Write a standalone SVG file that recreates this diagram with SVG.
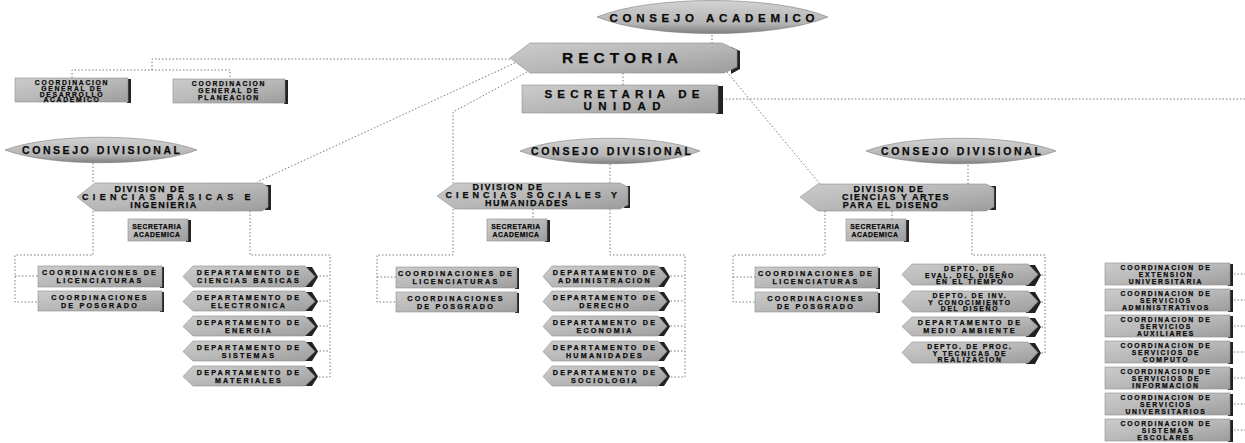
<svg xmlns="http://www.w3.org/2000/svg" width="1245" height="443" viewBox="0 0 1245 443">
<defs>
<linearGradient id="g" x1="0" y1="0" x2="1" y2="1">
<stop offset="0" stop-color="#cbcbcb"/>
<stop offset="0.5" stop-color="#b8b8b8"/>
<stop offset="1" stop-color="#9c9c9c"/>
</linearGradient>
<linearGradient id="gl" x1="0" y1="0" x2="0" y2="1">
<stop offset="0" stop-color="#d2d2d2"/>
<stop offset="0.7" stop-color="#b4b4b4"/>
<stop offset="1" stop-color="#7e7e7e"/>
</linearGradient>
</defs>
<style>
.b{fill:url(#g);stroke:#8e8e8e;stroke-width:0.6}
.l{fill:url(#gl);stroke:#808080;stroke-width:0.6}
.sh{fill:#222}
.t{font-family:"Liberation Sans",Arial,sans-serif;font-weight:bold;fill:#0a0a0a;stroke:#0a0a0a;stroke-width:0.25;text-anchor:middle}
.s{font-size:7.2px;letter-spacing:2.2px}
.s6{font-size:6.8px;letter-spacing:1.7px}
.m{font-size:9px;letter-spacing:1.5px}
.c{fill:none;stroke:#7a7a7a;stroke-width:1;stroke-dasharray:1.5 2}
</style>

<g id="connectors">
<path class="c" d="M712 28V44"/>
<path class="c" d="M623 73V85"/>
<path class="c" d="M722 99H1245"/>
<path class="c" d="M510 59H152V70M72 78V70H230V79"/>
<path class="c" d="M515 63L257 182"/>
<path class="c" d="M527 72L453 112V184"/>
<path class="c" d="M727 72L820 184"/>
<path class="c" d="M93 163V184"/>
<path class="c" d="M93 211V255H15V302H38M15 276H38"/>
<path class="c" d="M250 211V255H330V377H313M316 276H330M316 301H330M316 326H330M316 351H330"/>
<path class="c" d="M610 164V184"/>
<path class="c" d="M610 209V255H685V377H667M667 276H685M667 301H685M667 326H685M667 351H685"/>
<path class="c" d="M453 209V255H377V302H398M377 277H398"/>
<path class="c" d="M533 209V219"/>
<path class="c" d="M968 165V184"/>
<path class="c" d="M972 211V255H1045V353H1038M1038 275H1045M1038 302H1045M1038 327H1045"/>
<path class="c" d="M825 211V255H733V302H755M733 277H755"/>
<path class="c" d="M892 211V219"/>
<path class="c" d="M1234 274H1245M1234 300H1245M1234 326H1245M1234 352H1245M1234 378H1245M1234 404H1245M1234 430H1245"/>
</g>

<g id="consejo-academico">
<path class="l" d="M597 17C650 -5 775 -5 828 17C775 39 650 39 597 17Z"/>
<text class="t" x="712" y="21.5" font-size="11.5" textLength="205" lengthAdjust="spacing">CONSEJO ACADEMICO</text>
</g>

<g id="rectoria">
<path class="sh" d="M731 47L740 51V69L731 74Z"/>
<path class="b" d="M510 58L530 43H722L737 50V67L724 73H530Z"/>
<text class="t" x="620" y="63" font-size="15.5" textLength="116" lengthAdjust="spacing">RECTORIA</text>
</g>

<g id="secretaria-unidad">
<rect class="sh" x="716" y="86" width="7" height="28"/>
<rect class="b" x="522" y="85" width="196" height="28"/>
<text class="t" x="622" y="98" font-size="11.5" textLength="155" lengthAdjust="spacing">SECRETARIA DE</text>
<text class="t" x="622" y="110" font-size="11.5" textLength="77" lengthAdjust="spacing">UNIDAD</text>
</g>

<g id="coord-desarrollo">
<rect class="sh" x="127" y="79" width="4" height="24"/>
<rect class="b" x="15" y="78" width="113" height="24"/>
<text class="t s6" x="72" y="84.5">COORDINACION</text>
<text class="t s6" x="72" y="90.5">GENERAL DE</text>
<text class="t s6" x="72" y="96.5">DESARROLLO</text>
<text class="t s6" x="72" y="102">ACADEMICO</text>
</g>

<g id="coord-planeacion">
<rect class="sh" x="284" y="80" width="4" height="24"/>
<rect class="b" x="173" y="79" width="112" height="24"/>
<text class="t s6" x="229" y="86">COORDINACION</text>
<text class="t s6" x="229" y="93">GENERAL DE</text>
<text class="t s6" x="229" y="100">PLANEACION</text>
</g>

<!-- LEFT DIVISION -->
<g id="consejo-div-1">
<path class="l" d="M5 150C50 133 152 133 197 150C152 167 50 167 5 150Z"/>
<text class="t" x="101" y="154" font-size="10.5" textLength="158" lengthAdjust="spacing">CONSEJO DIVISIONAL</text>
</g>
<g id="division-1">
<rect class="sh" x="265" y="185" width="6" height="25"/>
<path class="b" d="M77 197L95 183H262L268 187V207L262 211H95Z"/>
<text class="t m" x="150" y="192">DIVISION DE</text>
<text class="t m" x="167" y="200" textLength="170" lengthAdjust="spacing">CIENCIAS BASICAS E</text>
<text class="t m" x="164" y="208">INGENIERIA</text>
</g>
<g id="secacad-1">
<rect class="sh" x="186" y="220" width="5" height="22"/>
<rect class="b" x="128" y="219" width="60" height="22"/>
<text class="t s6" x="157" y="228.5" style="letter-spacing:0.6px">SECRETARIA</text>
<text class="t s6" x="157" y="236.5" style="letter-spacing:0.6px">ACADEMICA</text>
</g>
<g id="coordlic-1">
<rect class="sh" x="160" y="267" width="4" height="21"/>
<rect class="b" x="38" y="266" width="124" height="21"/>
<text class="t s" x="100" y="275">COORDINACIONES DE</text>
<text class="t s" x="100" y="283">LICENCIATURAS</text>
</g>
<g id="coordpos-1">
<rect class="sh" x="160" y="292" width="4" height="20"/>
<rect class="b" x="38" y="291" width="124" height="20"/>
<text class="t s" x="100" y="299.5">COORDINACIONES</text>
<text class="t s" x="100" y="307.5">DE POSGRADO</text>
</g>
<g id="dep-1-1">
<path class="sh" d="M302 267L312 267L318 277L312 287L302 287Z"/>
<path class="b" d="M183 276.5L193 266H305L315 276.5L305 287H193Z"/>
<text class="t s" x="249" y="275">DEPARTAMENTO DE</text>
<text class="t s" x="249" y="283">CIENCIAS BASICAS</text>
</g>
<g id="dep-1-2">
<path class="sh" d="M302 292L312 292L318 301.5L312 311L302 311Z"/>
<path class="b" d="M183 301.5L193 291H305L315 301.5L305 311H193Z"/>
<text class="t s" x="249" y="300">DEPARTAMENTO DE</text>
<text class="t s" x="249" y="308">ELECTRONICA</text>
</g>
<g id="dep-1-3">
<path class="sh" d="M302 317L312 317L318 326.5L312 336L302 336Z"/>
<path class="b" d="M183 326.5L193 316H305L315 326.5L305 336H193Z"/>
<text class="t s" x="249" y="325">DEPARTAMENTO DE</text>
<text class="t s" x="249" y="333">ENERGIA</text>
</g>
<g id="dep-1-4">
<path class="sh" d="M302 342L312 342L318 351.5L312 361L302 361Z"/>
<path class="b" d="M183 351.5L193 341H305L315 351.5L305 361H193Z"/>
<text class="t s" x="249" y="350">DEPARTAMENTO DE</text>
<text class="t s" x="249" y="358">SISTEMAS</text>
</g>
<g id="dep-1-5">
<path class="sh" d="M302 367L312 367L318 376.5L312 386L302 386Z"/>
<path class="b" d="M183 376.5L193 366H305L315 376.5L305 386H193Z"/>
<text class="t s" x="249" y="375">DEPARTAMENTO DE</text>
<text class="t s" x="249" y="383">MATERIALES</text>
</g>

<!-- MIDDLE DIVISION -->
<g id="consejo-div-2">
<path class="l" d="M520 151C562 134 658 134 700 151C658 168 562 168 520 151Z"/>
<text class="t" x="611" y="155" font-size="10.5" textLength="160" lengthAdjust="spacing">CONSEJO DIVISIONAL</text>
</g>
<g id="division-2">
<rect class="sh" x="624" y="186" width="6" height="22"/>
<path class="b" d="M437 196L455 183H620L628 187V205L620 209H455Z"/>
<text class="t m" x="508" y="190">DIVISION DE</text>
<text class="t m" x="532" y="198" textLength="173" lengthAdjust="spacing">CIENCIAS SOCIALES Y</text>
<text class="t m" x="527" y="206">HUMANIDADES</text>
</g>
<g id="secacad-2">
<rect class="sh" x="545" y="220" width="5" height="22"/>
<rect class="b" x="487" y="219" width="60" height="22"/>
<text class="t s6" x="516" y="228.5" style="letter-spacing:0.6px">SECRETARIA</text>
<text class="t s6" x="516" y="236.5" style="letter-spacing:0.6px">ACADEMICA</text>
</g>
<g id="coordlic-2">
<rect class="sh" x="515" y="268" width="4" height="21"/>
<rect class="b" x="396" y="267" width="121" height="21"/>
<text class="t s" x="456" y="276">COORDINACIONES DE</text>
<text class="t s" x="456" y="284">LICENCIATURAS</text>
</g>
<g id="coordpos-2">
<rect class="sh" x="515" y="293" width="4" height="20"/>
<rect class="b" x="396" y="292" width="121" height="20"/>
<text class="t s" x="456" y="300.5">COORDINACIONES</text>
<text class="t s" x="456" y="308.5">DE POSGRADO</text>
</g>
<g id="dep-2-1">
<path class="sh" d="M655 267L664 267L670 277L664 287L655 287Z"/>
<path class="b" d="M543 276.5L552 266H658L667 276.5L658 287H552Z"/>
<text class="t s" x="605" y="275">DEPARTAMENTO DE</text>
<text class="t s" x="605" y="283">ADMINISTRACION</text>
</g>
<g id="dep-2-2">
<path class="sh" d="M655 292L664 292L670 301.5L664 311L655 311Z"/>
<path class="b" d="M543 301.5L552 291H658L667 301.5L658 311H552Z"/>
<text class="t s" x="605" y="300">DEPARTAMENTO DE</text>
<text class="t s" x="605" y="308">DERECHO</text>
</g>
<g id="dep-2-3">
<path class="sh" d="M655 317L664 317L670 326.5L664 336L655 336Z"/>
<path class="b" d="M543 326.5L552 316H658L667 326.5L658 336H552Z"/>
<text class="t s" x="605" y="325">DEPARTAMENTO DE</text>
<text class="t s" x="605" y="333">ECONOMIA</text>
</g>
<g id="dep-2-4">
<path class="sh" d="M655 342L664 342L670 351.5L664 361L655 361Z"/>
<path class="b" d="M543 351.5L552 341H658L667 351.5L658 361H552Z"/>
<text class="t s" x="605" y="350">DEPARTAMENTO DE</text>
<text class="t s" x="605" y="358">HUMANIDADES</text>
</g>
<g id="dep-2-5">
<path class="sh" d="M655 367L664 367L670 376.5L664 386L655 386Z"/>
<path class="b" d="M543 376.5L552 366H658L667 376.5L658 386H552Z"/>
<text class="t s" x="605" y="375">DEPARTAMENTO DE</text>
<text class="t s" x="605" y="383">SOCIOLOGIA</text>
</g>

<!-- RIGHT DIVISION -->
<g id="consejo-div-3">
<path class="l" d="M866 151C910 134 1012 134 1056 151C1012 168 910 168 866 151Z"/>
<text class="t" x="961" y="155" font-size="10.5" textLength="160" lengthAdjust="spacing">CONSEJO DIVISIONAL</text>
</g>
<g id="division-3">
<rect class="sh" x="990" y="186" width="6" height="24"/>
<path class="b" d="M800 197L818 184H986L994 188V207L986 211H818Z"/>
<text class="t m" x="889" y="192">DIVISION DE</text>
<text class="t m" x="896" y="200">CIENCIAS Y ARTES</text>
<text class="t m" x="891" y="208">PARA EL DISEÑO</text>
</g>
<g id="secacad-3">
<rect class="sh" x="904" y="220" width="5" height="22"/>
<rect class="b" x="846" y="219" width="60" height="22"/>
<text class="t s6" x="875" y="228.5" style="letter-spacing:0.6px">SECRETARIA</text>
<text class="t s6" x="875" y="236.5" style="letter-spacing:0.6px">ACADEMICA</text>
</g>
<g id="coordlic-3">
<rect class="sh" x="876" y="268" width="4" height="21"/>
<rect class="b" x="755" y="267" width="123" height="21"/>
<text class="t s" x="816" y="276">COORDINACIONES DE</text>
<text class="t s" x="816" y="284">LICENCIATURAS</text>
</g>
<g id="coordpos-3">
<rect class="sh" x="876" y="293" width="4" height="20"/>
<rect class="b" x="755" y="292" width="123" height="20"/>
<text class="t s" x="816" y="300.5">COORDINACIONES</text>
<text class="t s" x="816" y="308.5">DE POSGRADO</text>
</g>
<g id="dep-3-1">
<path class="sh" d="M1026 265L1035 265L1041 275L1035 286L1026 286Z"/>
<path class="b" d="M902 274.5L912 264H1028L1038 274.5L1028 285H912Z"/>
<text class="t s6" x="970" y="270.5">DEPTO. DE</text>
<text class="t s6" x="970" y="277.5">EVAL. DEL DISEÑO</text>
<text class="t s6" x="970" y="284">EN EL TIEMPO</text>
</g>
<g id="dep-3-2">
<path class="sh" d="M1026 292L1035 292L1041 302L1035 313L1026 313Z"/>
<path class="b" d="M902 301.5L912 291H1028L1038 301.5L1028 312H912Z"/>
<text class="t s6" x="970" y="297.5">DEPTO. DE INV.</text>
<text class="t s6" x="970" y="304.5">Y CONOCIMIENTO</text>
<text class="t s6" x="970" y="311">DEL DISEÑO</text>
</g>
<g id="dep-3-3">
<path class="sh" d="M1026 318L1035 318L1041 327L1035 337L1026 337Z"/>
<path class="b" d="M902 326.5L912 317H1028L1038 326.5L1028 336H912Z"/>
<text class="t s" x="970" y="325">DEPARTAMENTO DE</text>
<text class="t s" x="970" y="333">MEDIO AMBIENTE</text>
</g>
<g id="dep-3-4">
<path class="sh" d="M1026 343L1035 343L1041 353L1035 364L1026 364Z"/>
<path class="b" d="M902 352.5L912 342H1028L1038 352.5L1028 363H912Z"/>
<text class="t s6" x="970" y="348.5">DEPTO. DE PROC.</text>
<text class="t s6" x="970" y="355.5">Y TECNICAS DE</text>
<text class="t s6" x="970" y="362">REALIZACION</text>
</g>

<!-- FAR RIGHT COORDINATIONS -->
<g id="coord-extension">
<rect class="sh" x="1228" y="264" width="5" height="22"/>
<rect class="b" x="1105" y="263" width="125" height="22"/>
<text class="t s6" x="1166" y="269.5">COORDINACION DE</text>
<text class="t s6" x="1166" y="276.5">EXTENSION</text>
<text class="t s6" x="1166" y="283.5">UNIVERSITARIA</text>
</g>
<g id="coord-administrativos">
<rect class="sh" x="1228" y="290" width="5" height="22"/>
<rect class="b" x="1105" y="289" width="125" height="22"/>
<text class="t s6" x="1166" y="295.5">COORDINACION DE</text>
<text class="t s6" x="1166" y="302.5">SERVICIOS</text>
<text class="t s6" x="1166" y="309.5">ADMINISTRATIVOS</text>
</g>
<g id="coord-auxiliares">
<rect class="sh" x="1228" y="316" width="5" height="22"/>
<rect class="b" x="1105" y="315" width="125" height="22"/>
<text class="t s6" x="1166" y="321.5">COORDINACION DE</text>
<text class="t s6" x="1166" y="328.5">SERVICIOS</text>
<text class="t s6" x="1166" y="335.5">AUXILIARES</text>
</g>
<g id="coord-computo">
<rect class="sh" x="1228" y="342" width="5" height="22"/>
<rect class="b" x="1105" y="341" width="125" height="22"/>
<text class="t s6" x="1166" y="347.5">COORDINACION DE</text>
<text class="t s6" x="1166" y="354.5">SERVICIOS DE</text>
<text class="t s6" x="1166" y="361.5">COMPUTO</text>
</g>
<g id="coord-informacion">
<rect class="sh" x="1228" y="368" width="5" height="22"/>
<rect class="b" x="1105" y="367" width="125" height="22"/>
<text class="t s6" x="1166" y="373.5">COORDINACION DE</text>
<text class="t s6" x="1166" y="380.5">SERVICIOS DE</text>
<text class="t s6" x="1166" y="387.5">INFORMACION</text>
</g>
<g id="coord-universitarios">
<rect class="sh" x="1228" y="394" width="5" height="22"/>
<rect class="b" x="1105" y="393" width="125" height="22"/>
<text class="t s6" x="1166" y="399.5">COORDINACION DE</text>
<text class="t s6" x="1166" y="406.5">SERVICIOS</text>
<text class="t s6" x="1166" y="413.5">UNIVERSITARIOS</text>
</g>
<g id="coord-escolares">
<rect class="sh" x="1228" y="420" width="5" height="22"/>
<rect class="b" x="1105" y="419" width="125" height="22"/>
<text class="t s6" x="1166" y="425.5">COORDINACION DE</text>
<text class="t s6" x="1166" y="432.5">SISTEMAS</text>
<text class="t s6" x="1166" y="439.5">ESCOLARES</text>
</g>
</svg>
